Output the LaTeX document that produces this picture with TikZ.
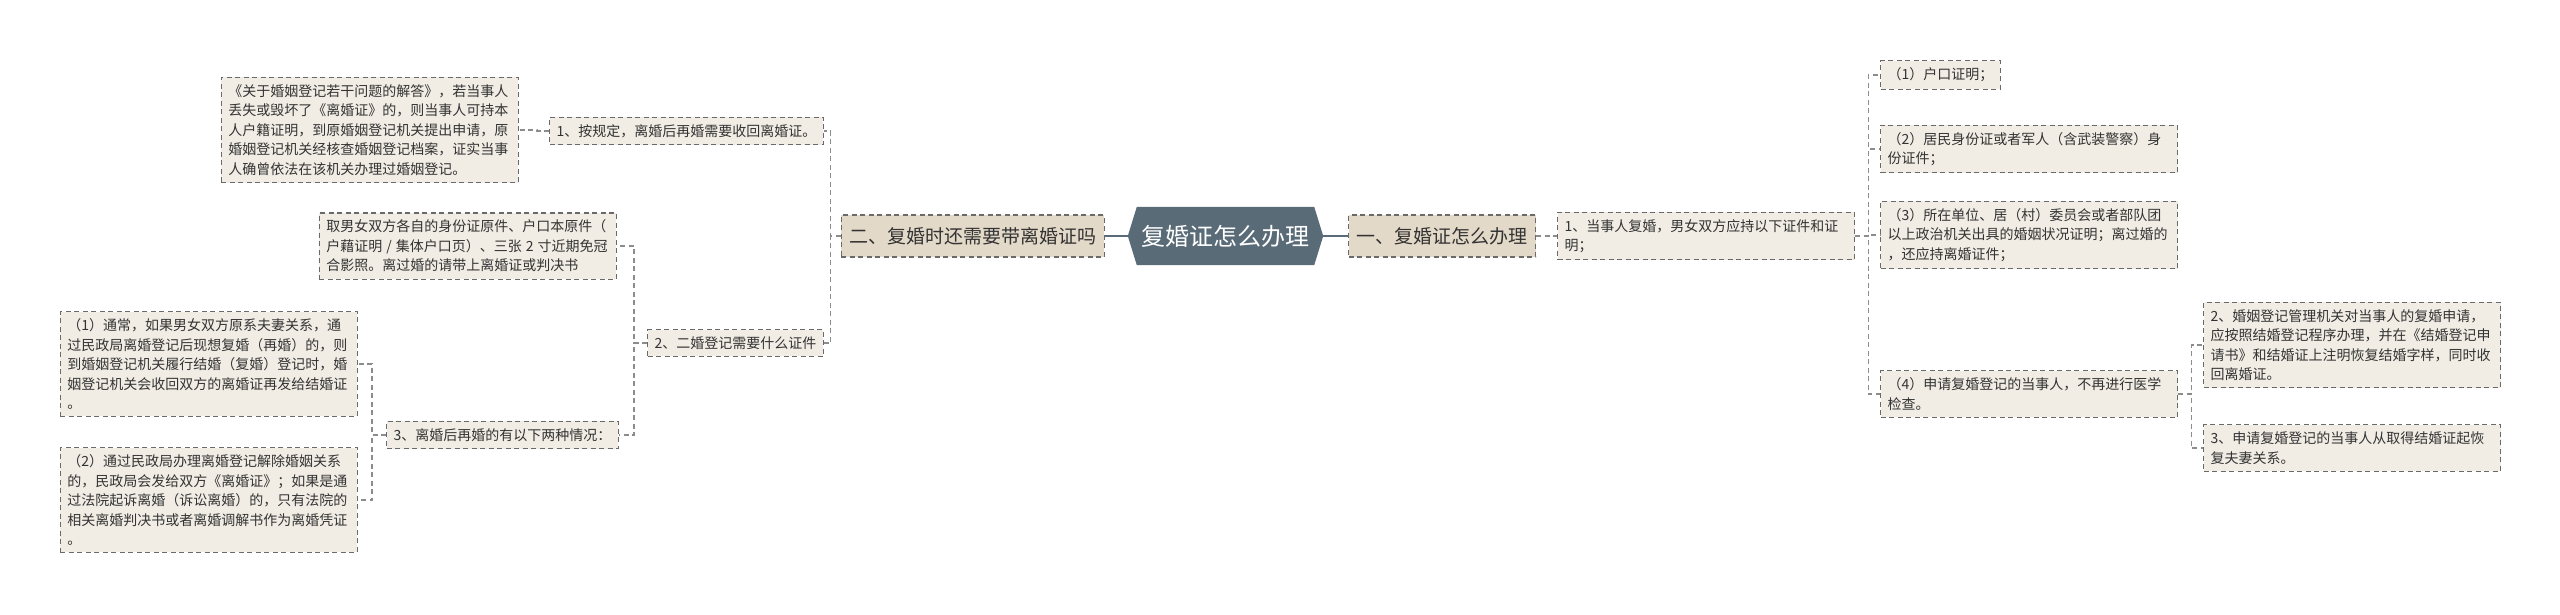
\documentclass[tikz,border=0pt]{standalone}
\usepackage{fontspec}
\newfontfamily\cjk{Noto Sans CJK SC}
\usetikzlibrary{backgrounds}
\definecolor{boxfill}{HTML}{F1EDE5}
\definecolor{topfill}{HTML}{E3D9C8}
\definecolor{hexfill}{HTML}{5A6B78}
\definecolor{edgegray}{HTML}{6A6A6A}
\definecolor{txt}{HTML}{333333}
\definecolor{conngray}{HTML}{8C8C8C}
\tikzset{
  leaf/.style={draw=edgegray, line width=1.2pt, dash pattern=on 5pt off 3.5pt,
    fill=boxfill, text=txt, font=\cjk\fontsize{14}{19.5}\selectfont,
    align=left, inner xsep=7pt, inner ysep=7pt},
  topic/.style={draw=edgegray, line width=1.2pt, dash pattern=on 5pt off 3.5pt,
    fill=topfill, text=txt, font=\cjk\fontsize{19}{23}\selectfont,
    inner xsep=8pt, inner ysep=0pt, minimum height=42pt},
  hubtext/.style={text=white, font=\cjk\fontsize{24}{28}\selectfont,
    minimum width=195pt, minimum height=58pt, inner sep=0pt},
  conn/.style={draw=conngray, line width=1.2pt, dash pattern=on 5pt off 3.5pt},
  hubline/.style={draw=hexfill, line width=2.5pt}
}
\begin{document}
\begin{tikzpicture}[x=1pt,y=-1pt]
\useasboundingbox (0,0) rectangle (2560,614);

% centre
\node[hubtext] (hub) at (1225.5,236) {复婚证怎么办理};
\begin{scope}[on background layer]
\fill[white] (0,0) rectangle (2560,614);
\fill[hexfill] ([xshift=9pt]hub.north west) -- ([xshift=-9pt]hub.north east)
  -- (hub.east) -- ([xshift=-9pt]hub.south east)
  -- ([xshift=9pt]hub.south west) -- (hub.west) -- cycle;
\end{scope}

\node[topic, anchor=east] (L1) at (1105,236) {二、复婚时还需要带离婚证吗};
\node[topic, anchor=west] (R1) at (1348,236) {一、复婚证怎么办理};

% left branch
\node[leaf, anchor=east] (B1) at (824,131) {1、按规定，离婚后再婚需要收回离婚证。};
\node[leaf, anchor=east, text width=283pt] (A) at (519,130) {《关于婚姻登记若干问题的解答》，若当事人\\丢失或毁坏了《离婚证》的，则当事人可持本\\人户籍证明，到原婚姻登记机关提出申请，原\\婚姻登记机关经核查婚姻登记档案，证实当事\\人确曾依法在该机关办理过婚姻登记。};
\node[leaf, anchor=east] (B2) at (824,343) {2、二婚登记需要什么证件};
\node[leaf, anchor=east, text width=283pt] (C) at (617,246) {取男女双方各自的身份证原件、户口本原件（\\户藉证明\hspace{4pt}/\hspace{4pt}集体户口页）、三张\hspace{4pt}2\hspace{4pt}寸近期免冠\\合影照。离过婚的请带上离婚证或判决书};
\node[leaf, anchor=east] (B3) at (619,435) {3、离婚后再婚的有以下两种情况：};
\node[leaf, anchor=east, text width=283pt] (D1) at (358,364) {（1）通常，如果男女双方原系夫妻关系，通\\过民政局离婚登记后现想复婚（再婚）的，则\\到婚姻登记机关履行结婚（复婚）登记时，婚\\姻登记机关会收回双方的离婚证再发给结婚证\\。};
\node[leaf, anchor=east, text width=283pt] (D2) at (358,500) {（2）通过民政局办理离婚登记解除婚姻关系\\的，民政局会发给双方《离婚证》；如果是通\\过法院起诉离婚（诉讼离婚）的，只有法院的\\相关离婚判决书或者离婚调解书作为离婚凭证\\。};

% right branch
\node[leaf, anchor=west, text width=283pt] (R2) at (1557,236) {1、当事人复婚，男女双方应持以下证件和证\\明；};
\node[leaf, anchor=west] (N1) at (1880,75) {（1）户口证明；};
\node[leaf, anchor=west, text width=283pt] (N2) at (1880,149) {（2）居民身份证或者军人（含武装警察）身\\份证件；};
\node[leaf, anchor=west, text width=283pt] (N3) at (1880,235) {（3）所在单位、居（村）委员会或者部队团\\以上政治机关出具的婚姻状况证明；离过婚的\\，还应持离婚证件；};
\node[leaf, anchor=west, text width=283pt] (N4) at (1880,394) {（4）申请复婚登记的当事人，不再进行医学\\检查。};
\node[leaf, anchor=west, text width=283pt] (E2) at (2203,345) {2、婚姻登记管理机关对当事人的复婚申请，\\应按照结婚登记程序办理，并在《结婚登记申\\请书》和结婚证上注明恢复结婚字样，同时收\\回离婚证。};
\node[leaf, anchor=west, text width=283pt] (E3) at (2203,448) {3、申请复婚登记的当事人从取得结婚证起恢\\复夫妻关系。};

% connectors
\draw[hubline] (L1.east) -- (hub.west);
\draw[hubline] (hub.east) -- (R1.west);
\draw[conn] (R1.east) -- (R2.west);

\draw[conn] (L1.west) -- ++(-10,0) |- (B1.east);
\draw[conn] (L1.west) -- ++(-10,0) |- (B2.east);
\draw[conn] (B1.west) -- ++(-12,0) |- (A.east);
\draw[conn] (B2.west) -- ++(-13,0) |- (C.east);
\draw[conn] (B2.west) -- ++(-13,0) |- (B3.east);
\draw[conn] (B3.west) -- ++(-14,0) |- (D1.east);
\draw[conn] (B3.west) -- ++(-14,0) |- (D2.east);

\draw[conn] (R2.east) -- ++(13,0) |- (N1.west);
\draw[conn] (R2.east) -- ++(13,0) |- (N2.west);
\draw[conn] (R2.east) -- ++(13,0) |- (N3.west);
\draw[conn] (R2.east) -- ++(13,0) |- (N4.west);
\draw[conn] (N4.east) -- ++(13,0) |- (E2.west);
\draw[conn] (N4.east) -- ++(13,0) |- (E3.west);
\end{tikzpicture}
\end{document}
